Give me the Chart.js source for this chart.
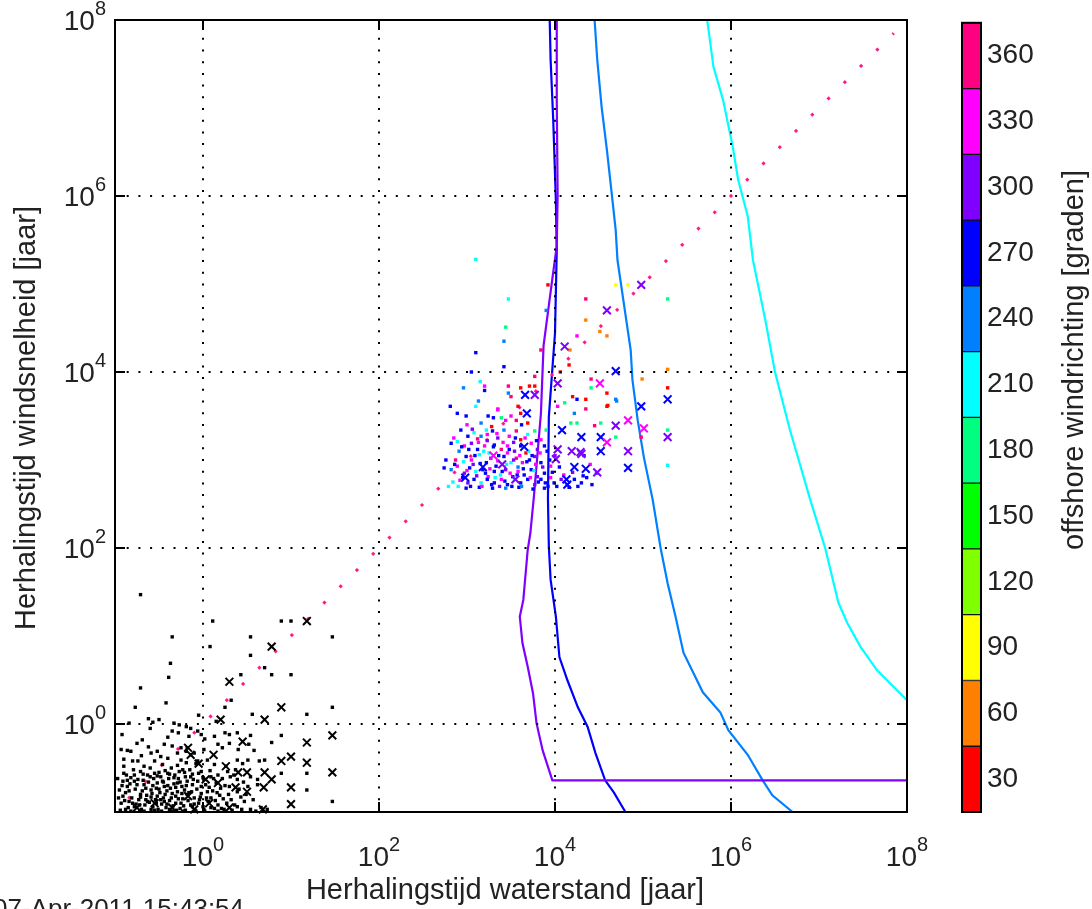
<!DOCTYPE html>
<html>
<head>
<meta charset="utf-8">
<script src="https://cdn.jsdelivr.net/npm/chart.js@4.4.1/dist/chart.umd.min.js"></script>
<style>
html, body { margin: 0; padding: 0; background: #fff; }
#wrap { position: relative; width: 1092px; height: 909px; overflow: hidden; }
#main { position: absolute; left: 0; top: 0; }
#cbar { position: absolute; left: 940px; top: 0; }
</style>
</head>
<body>
<div id="wrap">
  <canvas id="main" width="1092" height="909"></canvas>
  <canvas id="cbar" width="152" height="909"></canvas>
</div>
<script>
const FONT = '"Liberation Sans", Arial, sans-serif';

const xTickExps = [0, 2, 4, 6, 8];
const yTickExps = [0, 2, 4, 6, 8];

// colour bar: offshore windrichting [graden]
const cbarTicks = [30, 60, 90, 120, 150, 180, 210, 240, 270, 300, 330, 360];
const cbarEdges = [15, 45, 75, 105, 135, 165, 195, 225, 255, 285, 315, 345, 375];
const cbarColors = ['#ff0000', '#ff8000', '#ffff00', '#80ff00', '#00ff00', '#00ff80',
                    '#00ffff', '#0080ff', '#0000ff', '#8000ff', '#ff00ff', '#ff0080'];

// y = x reference (dotted)
const diagExp = [-0.85, 7.85];

// iso lines (log10 x, log10 y)
const c300X = [4.02, 4.02, 4.03, 4.02, 3.97, 3.87, 3.84, 3.76, 3.72, 3.69, 3.64, 3.60, 3.63, 3.69, 3.75, 3.79, 3.86, 3.97, 8.0];
const c300Y = [8.0, 7.09, 6.0, 5.43, 5.06, 4.30, 3.53, 2.58, 2.17, 1.98, 1.41, 1.22, 0.92, 0.65, 0.35, 0.01, -0.30, -0.64, -0.64];
const c270X = [3.94, 3.95, 3.98, 4.01, 4.02, 4.00, 3.93, 3.92, 3.93, 3.95, 4.01, 4.05, 4.14, 4.26, 4.37, 4.46, 4.57, 4.67, 4.80];
const c270Y = [8.0, 7.55, 6.86, 5.95, 5.39, 4.44, 3.49, 2.55, 2.02, 1.64, 1.22, 0.76, 0.50, 0.19, -0.03, -0.33, -0.64, -0.78, -1.0];
const c240X = [4.45, 4.48, 4.53, 4.59, 4.64, 4.69, 4.71, 4.86, 4.88, 4.94, 5.01, 5.11, 5.20, 5.28, 5.37, 5.46, 5.68, 5.88, 5.97, 6.19, 6.36, 6.47, 6.70];
const c240Y = [8.0, 7.55, 7.01, 6.52, 6.07, 5.61, 5.27, 4.25, 3.91, 3.45, 3.03, 2.55, 2.00, 1.60, 1.22, 0.81, 0.36, 0.13, -0.07, -0.35, -0.64, -0.81, -1.0];
const c210X = [5.73, 5.80, 5.91, 6.02, 6.08, 6.19, 6.25, 6.39, 6.50, 6.67, 6.90, 7.07, 7.22, 7.32, 7.47, 7.66, 8.0];
const c210Y = [8.0, 7.47, 7.09, 6.56, 6.19, 5.77, 5.27, 4.59, 4.0, 3.34, 2.55, 2.0, 1.38, 1.15, 0.88, 0.61, 0.27];

// black points (no direction)
const blackDots = [
  [-0.71, 1.47], [-0.35, 0.99], [-0.37, 0.69], [-0.39, 0.53], [-0.71, 0.41], [-0.42, 0.24], [-0.77, 0.19],
  [0.11, 1.17], [0.08, 0.88], [0.54, 0.99], [0.54, 0.78], [0.89, 1.17], [1.0, 1.17], [1.47, 0.99],
  [0.70, 0.64], [0.78, 0.56], [1.0, 0.56], [0.43, 0.56], [0.32, 0.27], [0.25, 0.19], [1.47, 0.19],
  [0.56, 0.11], [1.18, 0.11], [0.78, -0.21], [0.89, -0.13], [0.54, -0.13], [0.40, -0.29], [0.70, -0.41],
  [0.89, -0.56], [1.18, -0.56], [1.18, -0.75], [1.47, -0.88], [-0.62, 0.06], [-0.57, 0.02], [-0.50, 0.05],
  [-0.33, 0.01], [-0.27, -0.01], [-0.05, 0.10], [0.15, 0.03], [-0.84, 0.01],
  [-0.19, -0.03], [-0.14, -0.05], [-0.06, -0.08], [-0.02, -0.12], [-0.35, -0.08], [-0.28, -0.10], [-0.16, -0.14],
  [-0.69, -0.18], [-0.75, -0.22], [0.13, -0.14], [0.25, -0.10], [0.30, -0.12], [0.39, -0.10],
  [-0.44, -0.23], [-0.35, -0.25], [-0.25, -0.27], [-0.18, -0.27], [-0.10, -0.33], [0.01, -0.29], [0.17, -0.23],
  [0.22, -0.27], [0.30, -0.22], [0.52, -0.23], [-0.93, -0.29], [-0.82, -0.31], [-0.59, -0.33], [-0.52, -0.31],
  [-0.29, -0.33], [-0.19, -0.31], [-0.14, -0.35],
  [-0.48, -0.37], [-0.40, -0.39], [-0.25, -0.41], [-0.19, -0.44], [-0.06, -0.42], [0.05, -0.41], [0.13, -0.46],
  [0.26, -0.48], [0.39, -0.41], [0.51, -0.41], [0.64, -0.42], [-0.90, -0.48], [-0.80, -0.42], [-0.74, -0.42],
  [-0.67, -0.48], [-0.55, -0.42], [-0.46, -0.46], [-0.29, -0.47],
  [-0.90, -0.56], [-0.82, -0.61], [-0.71, -0.54], [-0.63, -0.58], [-0.55, -0.56], [-0.48, -0.60], [-0.40, -0.56],
  [-0.33, -0.61], [-0.23, -0.52], [-0.14, -0.60], [-0.02, -0.54], [0.01, -0.63], [0.09, -0.60], [0.17, -0.58],
  [0.28, -0.54], [0.37, -0.52], [0.54, -0.60], [0.62, -0.63], [0.39, -0.63],
  [-0.91, -0.65], [-0.86, -0.71], [-0.78, -0.65], [-0.67, -0.69], [-0.59, -0.75], [-0.52, -0.67], [-0.44, -0.71],
  [-0.37, -0.73], [-0.29, -0.67], [-0.21, -0.75], [-0.12, -0.69], [-0.02, -0.71], [0.05, -0.77], [0.15, -0.67],
  [0.20, -0.73], [0.30, -0.71], [0.39, -0.77], [0.51, -0.71], [0.62, -0.69],
  [-0.91, -0.82], [-0.84, -0.88], [-0.78, -0.94], [-0.71, -0.80], [-0.65, -0.86], [-0.59, -0.97], [-0.52, -0.82],
  [-0.44, -0.88], [-0.38, -0.97], [-0.31, -0.82], [-0.25, -0.90], [-0.18, -0.80], [-0.12, -0.94], [-0.04, -0.86],
  [0.01, -0.97], [0.09, -0.84], [0.17, -0.92], [0.24, -0.97], [0.32, -0.86], [0.39, -0.94], [0.47, -0.88],
  [0.54, -0.97], [0.66, -0.95], [0.73, -0.97], [-0.88, -0.97], [-0.72, -0.99], [-0.23, -0.99], [-0.08, -0.99], [0.17, -0.99],
  [-0.95, -0.75], [-0.93, -0.90], [-0.88, -0.78], [-0.87, -0.58], [-0.85, -0.95], [-0.83, -0.68], [-0.81, -0.84],
  [-0.79, -0.52], [-0.77, -0.74], [-0.76, -0.91], [-0.74, -0.63], [-0.73, -0.86], [-0.70, -0.97], [-0.69, -0.76],
  [-0.68, -0.57], [-0.66, -0.92], [-0.64, -0.81], [-0.62, -0.66], [-0.61, -0.89], [-0.60, -0.50], [-0.58, -0.79],
  [-0.57, -0.94], [-0.56, -0.62], [-0.54, -0.86], [-0.53, -0.73], [-0.51, -0.97], [-0.50, -0.55], [-0.49, -0.78],
  [-0.47, -0.91], [-0.46, -0.65], [-0.45, -0.84], [-0.43, -0.53], [-0.42, -0.95], [-0.41, -0.76], [-0.39, -0.62],
  [-0.38, -0.87], [-0.36, -0.50], [-0.35, -0.79], [-0.34, -0.93], [-0.32, -0.58], [-0.31, -0.72], [-0.30, -0.98],
  [-0.28, -0.85], [-0.27, -0.54], [-0.26, -0.66], [-0.24, -0.79], [-0.22, -0.93], [-0.20, -0.60], [-0.19, -0.70],
  [-0.17, -0.87], [-0.15, -0.52], [-0.13, -0.77], [-0.11, -0.63], [-0.10, -0.91], [-0.07, -0.74], [-0.05, -0.56],
  [-0.03, -0.83], [0.00, -0.94], [0.03, -0.69], [0.06, -0.88], [0.08, -0.53], [0.11, -0.76], [0.13, -0.96],
  [0.19, -0.81], [0.22, -0.62], [0.27, -0.90], [0.33, -0.98], [0.35, -0.58], [0.43, -0.83], [0.46, -0.66],
  [-0.97, -0.62], [-0.96, -0.84], [-0.94, -0.98], [-0.92, -0.70], [-0.89, -0.87], [-0.86, -0.64], [-0.84, -0.76],
  [-0.82, -0.99], [-0.80, -0.90], [-0.78, -0.58], [-0.75, -0.69], [-0.72, -0.92], [-0.71, -0.83], [-0.68, -0.64],
  [-0.67, -0.99], [-0.65, -0.73], [-0.63, -0.88], [-0.60, -0.60], [-0.59, -0.83], [-0.57, -0.70], [-0.55, -0.98],
  [-0.53, -0.90], [-0.52, -0.59], [-0.50, -0.74], [-0.48, -0.86], [-0.47, -0.99], [-0.45, -0.66], [-0.43, -0.80],
  [-0.41, -0.91], [-0.40, -0.70], [-0.38, -0.57], [-0.36, -0.84], [-0.35, -0.99], [-0.33, -0.68], [-0.31, -0.90],
  [-0.29, -0.77], [-0.28, -0.62], [-0.26, -0.96], [-0.24, -0.71], [-0.23, -0.85], [-0.21, -0.55], [-0.20, -0.98],
  [-0.18, -0.65], [-0.16, -0.78], [-0.14, -0.92], [-0.12, -0.57], [-0.10, -0.84], [-0.09, -0.98], [-0.06, -0.65],
  [-0.05, -0.90], [-0.02, -0.79], [0.00, -0.61], [0.02, -0.99], [0.04, -0.84], [0.07, -0.72], [0.09, -0.95],
  [0.12, -0.62], [0.14, -0.87], [0.16, -0.78], [0.21, -0.96], [0.23, -0.85], [0.25, -0.70], [0.29, -0.80],
  [0.31, -0.60], [0.36, -0.92], [0.41, -0.74], [0.44, -0.97], [0.49, -0.80], [0.57, -0.86], [0.60, -0.99],
  [-0.90, -0.40], [-0.86, -0.30], [-0.70, -0.36], [-0.62, -0.26], [-0.40, -0.15], [-0.08, -0.45], [0.02, -0.17],
  [0.45, -0.45], [0.58, -0.30], [-0.60, -0.05], [-0.92, -0.12]
];
const blackCrosses = [
  [0.78, 0.88], [0.30, 0.48], [1.18, 1.17], [0.89, 0.19], [1.47, -0.13], [1.47, -0.55], [1.18, -0.21],
  [0.89, -0.42], [1.0, -0.37], [1.18, -0.44], [0.50, -0.55], [0.70, -0.55], [0.78, -0.63], [1.0, -0.72],
  [0.37, -0.72], [0.69, -0.72], [0.50, -0.77], [1.0, -0.91], [0.20, 0.05], [0.70, 0.05],
  [-0.17, -0.27], [-0.14, -0.35], [0.03, -0.63], [0.17, -0.67], [0.26, -0.48], [0.68, -0.97], [-0.17, -0.82],
  [-0.55, -0.90], [-0.35, -0.95], [-0.10, -0.97], [0.07, -0.90], [0.30, -0.95], [-0.75, -0.95], [0.40, -0.55],
  [-0.05, -0.45], [0.45, -0.20], [0.12, -0.35]
];

// coloured points: [log10 x, log10 y, direction]
const dirDots = [
  [3.10, 5.28, 210], [4.69, 4.99, 90], [4.83, 4.99, 90], [5.28, 4.83, 180], [3.47, 4.83, 210], [3.92, 4.99, 30],
  [4.35, 4.83, 360], [3.90, 4.70, 240], [4.35, 4.59, 60], [4.51, 4.46, 60], [4.59, 4.41, 60], [4.25, 4.41, 330],
  [3.44, 4.51, 180], [3.42, 4.35, 240], [4.17, 4.25, 60], [3.84, 4.25, 360], [3.10, 4.22, 270], [4.16, 4.08, 30],
  [3.42, 4.06, 270], [5.28, 4.03, 60], [4.06, 4.0, 30], [3.05, 4.0, 270], [4.99, 3.92, 60], [3.77, 3.95, 360],
  [3.15, 3.89, 210], [4.41, 3.92, 360], [4.41, 3.82, 180], [3.20, 3.84, 330], [2.96, 3.82, 240], [3.20, 3.79, 270],
  [3.47, 3.84, 360], [3.61, 3.82, 30], [3.71, 3.84, 30], [3.77, 3.84, 30], [5.28, 3.82, 30], [4.59, 3.76, 30],
  [3.47, 3.76, 240], [3.50, 3.72, 360], [4.69, 3.69, 240], [4.20, 3.72, 30], [4.25, 3.69, 270], [4.35, 3.69, 30],
  [4.11, 3.65, 180], [4.03, 3.61, 330], [4.59, 3.61, 30], [2.81, 3.61, 270], [3.10, 3.61, 210], [3.13, 3.67, 240],
  [3.58, 3.61, 30], [3.61, 3.53, 30], [4.35, 3.58, 360], [3.35, 3.58, 330], [4.22, 3.53, 240], [2.89, 3.53, 270],
  [2.99, 3.50, 270], [3.50, 3.50, 330], [3.56, 3.45, 360], [3.39, 3.48, 180], [3.44, 3.45, 330], [5.28, 3.34, 180],
  [4.52, 3.42, 180], [4.45, 3.39, 360], [4.18, 3.42, 180], [4.25, 3.42, 180], [4.98, 3.26, 360], [4.69, 3.26, 180],
  [5.28, 2.94, 210], [4.70, 3.67, 240], [4.60, 3.62, 30],
  [3.16, 3.42, 240], [3.22, 3.34, 210], [3.35, 3.57, 330], [3.24, 3.50, 270], [3.30, 3.48, 270], [3.69, 3.42, 30],
  [2.93, 3.34, 270], [3.01, 3.27, 270], [3.08, 3.31, 210], [3.16, 3.27, 240], [3.23, 3.29, 330], [3.29, 3.33, 270],
  [3.35, 3.25, 300], [3.42, 3.34, 240], [3.48, 3.27, 330], [3.56, 3.33, 360], [3.61, 3.23, 30], [3.69, 3.29, 210],
  [3.77, 3.33, 180], [3.84, 3.23, 330], [3.90, 3.34, 180],
  [2.82, 3.19, 270], [2.89, 3.21, 210], [2.97, 3.16, 330], [3.05, 3.19, 300], [3.12, 3.12, 270], [3.20, 3.16, 330],
  [3.25, 3.08, 210], [3.31, 3.17, 270], [3.39, 3.12, 360], [3.46, 3.16, 330], [3.54, 3.10, 300], [3.61, 3.16, 270],
  [3.67, 3.08, 30], [3.73, 3.19, 330], [3.80, 3.12, 300], [3.88, 3.16, 270],
  [2.91, 3.10, 240], [2.99, 3.04, 270], [3.05, 3.00, 330], [3.14, 3.06, 210], [3.22, 2.97, 270], [3.27, 3.02, 300],
  [3.35, 2.99, 330], [3.42, 3.04, 270], [3.50, 2.97, 210], [3.56, 3.02, 360], [3.63, 2.97, 330], [3.71, 3.00, 270],
  [3.77, 3.04, 300], [3.84, 2.97, 270], [3.94, 3.00, 270],
  [2.74, 2.91, 270], [2.82, 2.89, 240], [2.89, 2.93, 330], [2.97, 2.85, 300], [3.03, 2.91, 270], [3.10, 2.87, 210],
  [3.18, 2.89, 270], [3.24, 2.81, 330], [3.31, 2.87, 270], [3.38, 2.83, 210], [3.44, 2.89, 300], [3.52, 2.81, 270],
  [3.58, 2.87, 330], [3.65, 2.83, 270], [3.73, 2.89, 270], [3.80, 2.81, 300], [3.88, 2.85, 270], [3.95, 2.93, 330],
  [2.84, 2.75, 210], [2.95, 2.80, 270], [3.01, 2.74, 300], [3.08, 2.78, 270], [3.16, 2.74, 210], [3.23, 2.78, 270],
  [3.31, 2.74, 270], [3.39, 2.78, 330], [3.46, 2.72, 270], [3.54, 2.78, 210], [3.61, 2.74, 270], [3.69, 2.78, 270],
  [3.77, 2.72, 300], [3.84, 2.78, 270], [3.92, 2.70, 270], [3.99, 2.74, 270], [4.07, 2.78, 300], [4.14, 2.72, 270],
  [4.22, 2.78, 270], [4.30, 2.74, 270],
  [2.99, 2.68, 270], [3.14, 2.69, 270], [3.29, 2.68, 270], [3.44, 2.68, 240], [3.59, 2.69, 270], [3.75, 2.67, 270],
  [3.88, 2.68, 270], [4.36, 2.80, 270], [4.42, 2.72, 270], [4.47, 2.85, 240], [4.40, 2.95, 330], [4.33, 3.05, 270],
  [2.87, 3.00, 360], [3.00, 3.40, 330], [3.28, 3.38, 30], [3.53, 3.20, 300], [3.62, 3.40, 270], [3.70, 3.10, 210],
  [2.90, 2.70, 210], [3.07, 2.95, 300], [3.33, 2.93, 270], [3.46, 3.08, 330], [3.58, 2.92, 240], [3.95, 2.80, 330],
  [4.00, 3.05, 300], [3.78, 2.95, 330], [3.12, 3.24, 360],
  [2.76, 3.00, 270], [2.79, 2.70, 210], [2.85, 3.25, 330], [2.86, 2.95, 270], [2.92, 2.77, 330], [2.94, 3.15, 270],
  [2.96, 2.98, 210], [3.00, 2.88, 330], [3.02, 3.12, 270], [3.04, 2.70, 270], [3.06, 3.35, 300], [3.09, 3.05, 270],
  [3.11, 2.82, 300], [3.13, 3.20, 330], [3.15, 2.96, 270], [3.17, 2.70, 330], [3.19, 3.10, 210], [3.21, 2.85, 270],
  [3.23, 3.22, 300], [3.26, 2.90, 330], [3.28, 2.72, 270], [3.30, 3.15, 270], [3.32, 2.80, 210], [3.34, 3.30, 330],
  [3.36, 3.05, 270], [3.37, 2.70, 300], [3.40, 2.87, 270], [3.41, 3.20, 330], [3.43, 2.76, 270], [3.45, 2.95, 210],
  [3.48, 3.12, 270], [3.49, 2.85, 330], [3.51, 2.70, 270], [3.53, 3.00, 300], [3.55, 3.25, 270], [3.57, 2.83, 270],
  [3.60, 3.05, 330], [3.62, 2.70, 240], [3.64, 2.90, 270], [3.66, 3.25, 330], [3.68, 2.98, 270], [3.72, 2.80, 330],
  [3.74, 3.05, 270], [3.76, 2.88, 210], [3.79, 3.22, 270], [3.81, 2.75, 270], [3.83, 3.08, 330], [3.86, 2.92, 300],
  [3.89, 2.74, 270], [3.91, 3.10, 270], [3.97, 2.86, 270], [4.02, 2.70, 270], [4.05, 2.92, 270], [4.10, 2.83, 330],
  [4.16, 2.69, 270], [4.20, 2.86, 300], [4.26, 2.70, 270], [4.32, 2.82, 270]
];
const dirCrosses = [
  [4.98, 4.99, 300], [4.59, 4.70, 300], [4.11, 4.29, 300], [4.69, 4.01, 270], [4.51, 3.87, 330], [4.03, 3.87, 300],
  [3.66, 3.74, 270], [3.77, 3.74, 300], [5.28, 3.69, 270], [4.98, 3.61, 270], [3.68, 3.53, 270], [4.69, 3.39, 300],
  [4.83, 3.45, 330], [5.01, 3.36, 330], [4.08, 3.34, 270], [4.30, 3.26, 270], [4.52, 3.26, 270], [4.59, 3.20, 330],
  [5.28, 3.26, 300], [4.52, 3.10, 270], [4.83, 3.10, 300], [4.19, 3.10, 300], [4.30, 3.07, 300], [4.83, 2.91, 270],
  [4.48, 2.86, 300], [4.22, 2.92, 270], [4.13, 2.78, 270], [4.14, 2.72, 270], [4.03, 3.12, 300], [4.01, 3.01, 300],
  [4.35, 2.90, 270], [4.29, 3.09, 300], [3.18, 2.92, 270], [3.40, 2.95, 300], [3.30, 3.05, 330], [2.98, 2.80, 270],
  [3.55, 2.78, 300], [3.65, 3.15, 270]
];

const toPt = p => ({ x: 10 ** p[0], y: 10 ** p[1] });
const linePts = (lx, ly) => lx.map((v, i) => ({ x: 10 ** v, y: 10 ** ly[i] }));
const colorOf = dir => cbarColors[cbarTicks.indexOf(dir)];

function drawPow(ctx, exp, x, y, anchor) {
  ctx.font = '28px ' + FONT;
  const wBase = ctx.measureText('10').width;
  ctx.font = '20px ' + FONT;
  const wExp = ctx.measureText(String(exp)).width;
  const left = anchor === 'center' ? x - (wBase + wExp) / 2 : x - wBase - wExp;
  ctx.textAlign = 'left';
  ctx.textBaseline = 'alphabetic';
  ctx.font = '28px ' + FONT;
  ctx.fillText('10', left, y);
  ctx.font = '20px ' + FONT;
  ctx.fillText(String(exp), left + wBase, y - 15);
}

const axesPlugin = {
  id: 'matlabAxes',
  afterDatasetsDraw(chart) {
    const { ctx, chartArea: a, scales: { x, y } } = chart;
    ctx.save();
    // dotted grid
    ctx.strokeStyle = '#000';
    ctx.lineWidth = 2;
    ctx.setLineDash([2, 9.7]);
    xTickExps.forEach(e => {
      const px = Math.round(x.getPixelForValue(10 ** e));
      ctx.beginPath(); ctx.moveTo(px, a.bottom); ctx.lineTo(px, a.top); ctx.stroke();
    });
    yTickExps.forEach(e => {
      const py = Math.round(y.getPixelForValue(10 ** e));
      ctx.beginPath(); ctx.moveTo(a.left, py); ctx.lineTo(a.right, py); ctx.stroke();
    });
    ctx.setLineDash([]);
    // box + inward ticks
    ctx.strokeRect(a.left, a.top, a.right - a.left, a.bottom - a.top);
    ctx.beginPath();
    xTickExps.forEach(e => {
      const px = Math.round(x.getPixelForValue(10 ** e));
      ctx.moveTo(px, a.bottom); ctx.lineTo(px, a.bottom - 10);
      ctx.moveTo(px, a.top); ctx.lineTo(px, a.top + 10);
    });
    yTickExps.forEach(e => {
      const py = Math.round(y.getPixelForValue(10 ** e));
      ctx.moveTo(a.left, py); ctx.lineTo(a.left + 10, py);
      ctx.moveTo(a.right, py); ctx.lineTo(a.right - 10, py);
    });
    ctx.stroke();
    // tick labels
    ctx.fillStyle = '#222';
    xTickExps.forEach(e => drawPow(ctx, e, x.getPixelForValue(10 ** e), a.bottom + 54, 'center'));
    yTickExps.forEach(e => drawPow(ctx, e, a.left - 9, y.getPixelForValue(10 ** e) + 10, 'right'));
    // axis titles
    ctx.font = '29px ' + FONT;
    ctx.textAlign = 'center';
    ctx.textBaseline = 'alphabetic';
    ctx.fillText('Herhalingstijd waterstand [jaar]', (a.left + a.right) / 2 - 6, a.bottom + 87);
    ctx.save();
    ctx.translate(35, (a.top + a.bottom) / 2 + 2);
    ctx.rotate(-Math.PI / 2);
    ctx.fillText('Herhalingstijd windsnelheid [jaar]', 0, 0);
    ctx.restore();
    // print date
    ctx.textAlign = 'left';
    ctx.font = '26px ' + FONT;
    ctx.fillText('07-Apr-2011 15:43:54', -7, 917);
    ctx.restore();
  }
};

new Chart(document.getElementById('main'), {
  type: 'scatter',
  data: {
    datasets: [
      {
        data: dirCrosses.map(toPt), pointStyle: 'crossRot', pointRadius: 5.5, pointBorderWidth: 2,
        pointBorderColor: dirCrosses.map(p => colorOf(p[2])), showLine: false, clip: false
      },
      {
        data: dirDots.map(toPt), pointStyle: 'rect', pointRadius: 2.4, pointBorderWidth: 0,
        pointBackgroundColor: dirDots.map(p => colorOf(p[2])), showLine: false, clip: false
      },
      {
        data: blackCrosses.map(toPt), pointStyle: 'crossRot', pointRadius: 5.5, pointBorderWidth: 2,
        pointBorderColor: '#000', showLine: false, clip: false
      },
      {
        data: blackDots.map(toPt), pointStyle: 'rect', pointRadius: 2.4, pointBorderWidth: 0,
        pointBackgroundColor: '#000', showLine: false, clip: false
      },
      {
        type: 'line', data: linePts(diagExp, diagExp), borderColor: '#ff1a80', borderWidth: 3,
        borderDash: [3, 20], pointRadius: 0, fill: false
      },
      { type: 'line', data: linePts(c300X, c300Y), borderColor: '#8000ff', borderWidth: 2.2, pointRadius: 0, fill: false },
      { type: 'line', data: linePts(c270X, c270Y), borderColor: '#0000ff', borderWidth: 2.2, pointRadius: 0, fill: false },
      { type: 'line', data: linePts(c240X, c240Y), borderColor: '#0080ff', borderWidth: 2.2, pointRadius: 0, fill: false },
      { type: 'line', data: linePts(c210X, c210Y), borderColor: '#00ffff', borderWidth: 2.2, pointRadius: 0, fill: false }
    ]
  },
  options: {
    responsive: false,
    animation: false,
    devicePixelRatio: 1,
    layout: { padding: { top: 20, right: 185, bottom: 0, left: 0 } },
    scales: {
      x: {
        type: 'logarithmic', position: 'bottom', min: 0.1, max: 1e8,
        ticks: { display: false }, grid: { display: false, drawTicks: false }, border: { display: false },
        afterFit: s => { s.height = 97; }
      },
      y: {
        type: 'logarithmic', position: 'left', min: 0.1, max: 1e8,
        ticks: { display: false }, grid: { display: false, drawTicks: false }, border: { display: false },
        afterFit: s => { s.width = 115; }
      }
    },
    plugins: { legend: { display: false }, tooltip: { enabled: false } }
  },
  plugins: [axesPlugin]
});

// colour bar
const cbarPlugin = {
  id: 'cbarFrame',
  afterDatasetsDraw(chart) {
    const { ctx, chartArea: a } = chart;
    ctx.save();
    ctx.strokeStyle = '#000';
    ctx.lineWidth = 2;
    ctx.strokeRect(a.left, a.top, a.right - a.left, a.bottom - a.top);
    ctx.fillStyle = '#222';
    ctx.font = '29px ' + FONT;
    ctx.textAlign = 'center';
    ctx.textBaseline = 'middle';
    ctx.translate(135, 360);
    ctx.rotate(-Math.PI / 2);
    ctx.fillText('offshore windrichting [graden]', 0, 0);
    ctx.restore();
  }
};

new Chart(document.getElementById('cbar'), {
  type: 'bar',
  data: {
    labels: ['dir'],
    datasets: cbarColors.map((c, i) => ({
      data: [[cbarEdges[i], cbarEdges[i + 1]]],
      backgroundColor: c, borderColor: '#111', borderWidth: { top: 1, bottom: 1, left: 0, right: 0 },
      borderSkipped: false, grouped: false, barPercentage: 1, categoryPercentage: 1
    }))
  },
  options: {
    responsive: false,
    animation: false,
    devicePixelRatio: 1,
    layout: { padding: { top: 20, right: 0, bottom: 97, left: 22 } },
    scales: {
      x: { display: false },
      y: {
        position: 'right', min: 15, max: 375,
        grid: { display: false, drawTicks: false }, border: { display: false },
        ticks: { color: '#222', font: { family: FONT, size: 28 }, padding: 6 },
        afterBuildTicks: s => { s.ticks = cbarTicks.map(v => ({ value: v })); },
        afterFit: s => { s.width = 111; }
      }
    },
    plugins: { legend: { display: false }, tooltip: { enabled: false } }
  },
  plugins: [cbarPlugin]
});
</script>
</body>
</html>
